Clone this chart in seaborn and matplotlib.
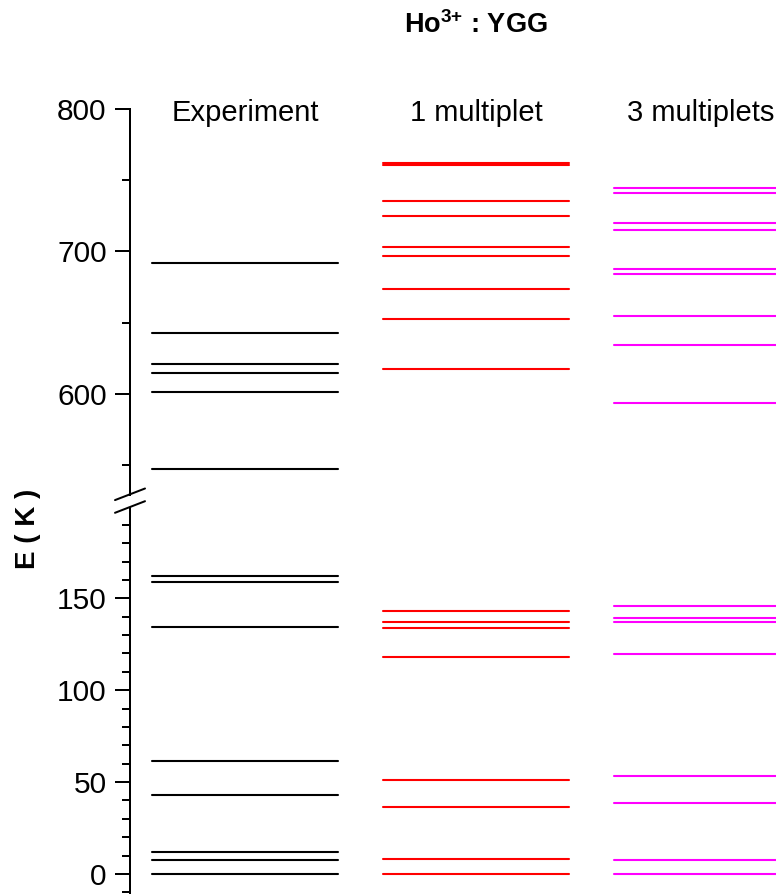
import numpy as np
import pandas as pd
import matplotlib
matplotlib.use("Agg")
import matplotlib.pyplot as plt
import seaborn as sns
from matplotlib.lines import Line2D
from matplotlib.ticker import MultipleLocator, FixedLocator

# ---------------- data ----------------
columns = ["Experiment", "1 multiplet", "3 multiplets"]
experiment = [0.0, 7.4, 11.8, 42.9, 61.3, 134.6, 159.1, 162.2,
              546.8, 600.9, 614.4, 620.8, 642.8, 691.8]
one_multiplet = [0.0, 8.0, 36.4, 50.9, 118.0, 134.0, 137.3, 143.3,
                 617.2, 652.6, 673.3, 697.0, 703.0, 724.7, 735.8, 761.0, 762.0]
three_multiplets = [0.0, 7.6, 38.7, 53.1, 119.8, 137.1, 139.1, 145.6,
                    593.2, 634.1, 654.3, 684.5, 687.6, 715.1, 719.8, 741.4, 744.4]
colors = ["#000000", "#FF0000", "#FF00FF"]
title = r"Ho$^{3{+}}$ : YGG"
ylabel = "E ( K )"
upper_major = [600, 700, 800]
lower_major_step = 50

# ---------------- style ----------------
sns.set_style("ticks", {"axes.edgecolor": "black", "xtick.color": "black",
                        "ytick.color": "black", "text.color": "black",
                        "axes.labelcolor": "black"})
plt.rcParams["font.family"] = ["Liberation Sans", "DejaVu Sans"]
plt.rcParams["mathtext.default"] = "regular"

HALF = 0.403
rows = []
for ci, (name, vals) in enumerate(zip(columns, [experiment, one_multiplet, three_multiplets])):
    for li, v in enumerate(vals):
        for side in (-1, 1):
            rows.append({"col": name, "id": f"{name}-{li}", "x": ci + side * HALF, "E": v})
df = pd.DataFrame(rows)

W, H = 776, 894
fig = plt.figure(figsize=(W / 100, H / 100), dpi=100)
L = 130 / W
ax_top = fig.add_axes([L, 0.4468, 1 - L, 0.8777 - 0.4468])
ax_bot = fig.add_axes([L, 0.0, 1 - L, 0.4315])

for ax in (ax_top, ax_bot):
    sns.lineplot(data=df, x="x", y="E", hue="col", hue_order=columns,
                 palette=colors, units="id", estimator=None, sort=False,
                 legend=False, linewidth=1.5, ax=ax)
    ax.set_xlim(-0.5, 2.30)
    ax.set_xticks([])
    ax.set_xlabel("")
    ax.set_ylabel("")
    sns.despine(ax=ax, top=True, right=True, bottom=True)
    ax.spines["left"].set_linewidth(1.44)
    ax.tick_params(axis="y", which="major", direction="out", length=10.8,
                   width=1.44, labelsize=21.5, pad=6)
    ax.tick_params(axis="y", which="minor", direction="out", length=6,
                   width=1.44)
    ax.patch.set_alpha(0)

ax_top.set_ylim(529, 800)
ax_top.yaxis.set_major_locator(FixedLocator(upper_major))
ax_top.yaxis.set_minor_locator(MultipleLocator(50))

ax_bot.set_ylim(-10.9, 199)
ax_bot.yaxis.set_major_locator(MultipleLocator(lower_major_step))
ax_bot.yaxis.set_minor_locator(MultipleLocator(10))

# column headers
for ci, name in enumerate(columns):
    xo = ci - 0.025 * (ci == 2)
    ax_top.text(xo, 792, name, ha="center", va="baseline", fontsize=21,
                clip_on=False)

# title and y label
fig.text(475.8 / W, 1 - 33.3 / H, title, ha="center", va="baseline",
         fontsize=19.5, fontweight="bold")
fig.text(28 / W, 1 - 529 / H, ylabel, rotation=90, ha="center", va="center",
         fontsize=20, fontweight="bold")

# axis break marks
for yc in (494.3, 507.0):
    fig.add_artist(Line2D([115 / W, 145 / W],
                          [1 - (yc + 5.8) / H, 1 - (yc - 5.8) / H],
                          color="black", linewidth=1.44,
                          transform=fig.transFigure))

fig.savefig("out.png", dpi=100)
